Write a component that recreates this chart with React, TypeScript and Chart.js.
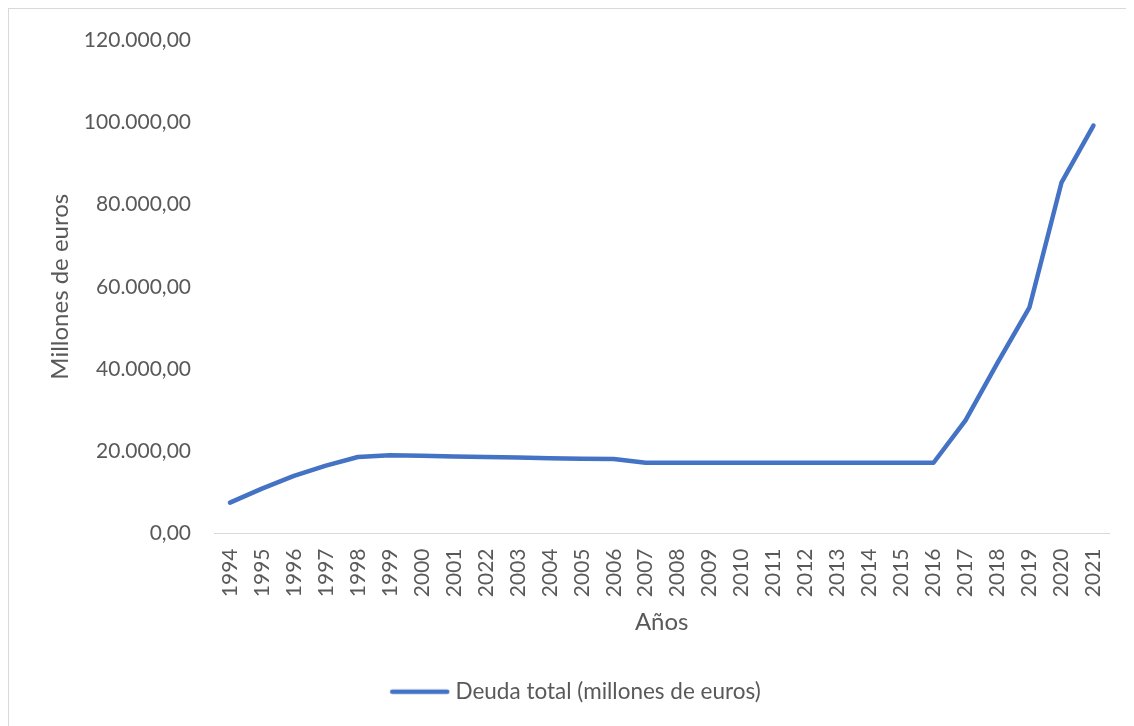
import React, { useEffect, useRef } from "react";
import { Chart, registerables } from "chart.js";

Chart.register(...registerables);

const years: string[] = [
  "1994", "1995", "1996", "1997", "1998", "1999", "2000", "2001", "2022", "2003",
  "2004", "2005", "2006", "2007", "2008", "2009", "2010", "2011", "2012", "2013",
  "2014", "2015", "2016", "2017", "2018", "2019", "2020", "2021",
];

const deudaTotal: number[] = [
  7500, 10900, 14000, 16500, 18600, 19000, 18900, 18700, 18600, 18500,
  18300, 18200, 18100, 17200, 17200, 17200, 17200, 17200, 17200, 17200,
  17200, 17200, 17200, 27500, 41500, 55000, 85300, 99200,
];

const seriesLabel = "Deuda total (millones de euros)";
const yTitle = "Millones de euros";
const xTitle = "Años";

const FONT = "Lato, 'Open Sans', sans-serif";
const TEXT = "#595959";
const LINE = "#4472C4";

function formatEs(v: number): string {
  const fixed = Math.abs(v).toFixed(2);
  const [intPart, dec] = fixed.split(".");
  const grouped = intPart.replace(/\B(?=(\d{3})+(?!\d))/g, ".");
  return (v < 0 ? "-" : "") + grouped + "," + dec;
}

function makeLegendLine(): HTMLCanvasElement {
  const c = document.createElement("canvas");
  c.width = 61;
  c.height = 8;
  const g = c.getContext("2d");
  if (g) {
    g.strokeStyle = LINE;
    g.lineWidth = 4.5;
    g.lineCap = "round";
    g.beginPath();
    g.moveTo(3, 4);
    g.lineTo(58, 4);
    g.stroke();
  }
  return c;
}

export default function App() {
  const canvasRef = useRef<HTMLCanvasElement | null>(null);

  useEffect(() => {
    if (!canvasRef.current) return;
    const legendLine = makeLegendLine();
    const chart = new Chart(canvasRef.current, {
      type: "line",
      data: {
        labels: years,
        datasets: [
          {
            label: seriesLabel,
            data: deudaTotal,
            borderColor: LINE,
            backgroundColor: LINE,
            borderWidth: 4.5,
            pointRadius: 0,
            pointHoverRadius: 0,
            tension: 0,
            borderCapStyle: "round",
            borderJoinStyle: "round",
            fill: false,
          },
        ],
      },
      options: {
        animation: false,
        responsive: false,
        maintainAspectRatio: false,
        layout: { padding: { top: 31, right: 21, left: 34, bottom: 13 } },
        plugins: {
          tooltip: { enabled: false },
          legend: {
            display: true,
            position: "bottom",
            labels: {
              usePointStyle: true,
              pointStyle: legendLine,
              pointStyleWidth: 49,
              color: TEXT,
              font: { family: FONT, size: 22.5 },
              padding: 10,
            },
          },
        },
        scales: {
          x: {
            type: "category",
            offset: true,
            grid: { display: false, drawTicks: false },
            border: { display: true, color: "#D9D9D9", width: 1 },
            ticks: {
              color: TEXT,
              font: { family: FONT, size: 21 },
              minRotation: 90,
              maxRotation: 90,
              autoSkip: false,
              padding: 15,
            },
            title: {
              display: true,
              text: xTitle,
              color: TEXT,
              font: { family: FONT, size: 24 },
              padding: { top: 0, bottom: 34 },
            },
            afterFit: (scale: any) => {
              scale.height = 137;
            },
          },
          y: {
            min: 0,
            max: 120000,
            grid: { display: false, drawTicks: false },
            border: { display: false },
            ticks: {
              stepSize: 20000,
              color: TEXT,
              font: { family: FONT, size: 21, lineHeight: 0.5 },
              padding: 23,
              callback: (v: any) => formatEs(Number(v)),
            },
            title: {
              display: true,
              text: yTitle,
              color: TEXT,
              font: { family: FONT, size: 24 },
              padding: { top: 3, bottom: 0 },
            },
            afterFit: (scale: any) => {
              scale.width = 171;
            },
          },
        },
      },
    });
    return () => chart.destroy();
  }, []);

  return (
    <div
      style={{
        width: 1125,
        height: 717,
        borderLeft: "1px solid #D9D9D9",
        borderTop: "1px solid #D9D9D9",
        background: "#fff",
      }}
    >
      <canvas ref={canvasRef} width={1125} height={717} style={{ display: "block" }} />
    </div>
  );
}
